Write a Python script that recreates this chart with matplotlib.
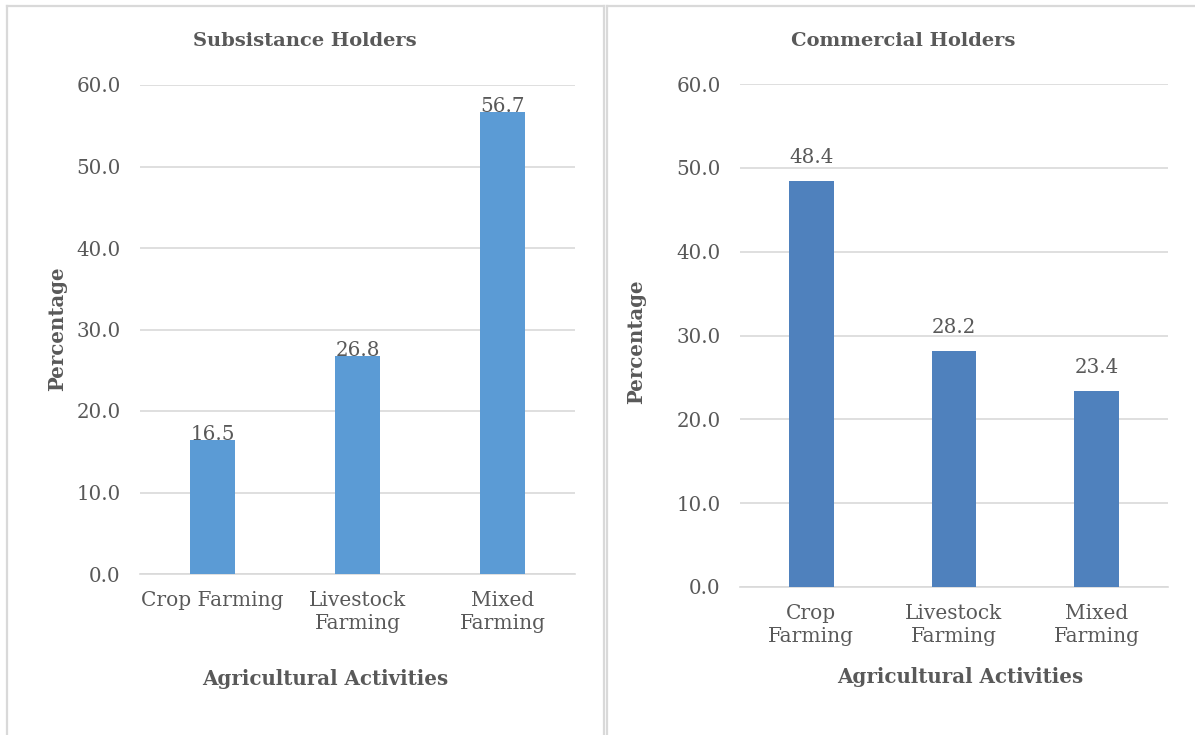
import matplotlib
matplotlib.use("Agg")
import matplotlib.pyplot as plt
from matplotlib.lines import Line2D

# Data
categories_sub = ["Crop Farming", "Livestock\nFarming", "Mixed\nFarming"]
values_sub = [16.5, 26.8, 56.7]
categories_com = ["Crop\nFarming", "Livestock\nFarming", "Mixed\nFarming"]
values_com = [48.4, 28.2, 23.4]
yticks = [0, 10, 20, 30, 40, 50, 60]

TEXT = "#595959"
GRID = "#D9D9D9"
FONT = "DejaVu Serif"

W, H = 1195, 735
fig = plt.figure(figsize=(W / 100, H / 100), dpi=100)
fig.patch.set_facecolor("white")


def fx(px):
    return px / W


def fy(py):
    return 1 - py / H


# Panel frames
frame_kw = dict(color=GRID, linewidth=1.6, transform=fig.transFigure)
fig.add_artist(Line2D([fx(7), fx(7)], [fy(6), 0], **frame_kw))
fig.add_artist(Line2D([fx(7), fx(604)], [fy(6), fy(6)], **frame_kw))
fig.add_artist(Line2D([fx(604), fx(604)], [fy(6), 0], **frame_kw))
fig.add_artist(Line2D([fx(607), fx(607)], [fy(6), 0], **frame_kw))
fig.add_artist(Line2D([fx(607), 1], [fy(6), fy(6)], **frame_kw))


def panel(rect, cats, vals, color, title, title_xy, xlabel_xy, ylabel_xy,
          label_offset, xpad):
    ax = fig.add_axes(rect)
    x = list(range(len(cats)))
    bars = ax.bar(x, vals, width=0.315, color=color, zorder=3)
    ax.set_xlim(-0.5, len(cats) - 0.5)
    ax.set_ylim(0, 60)
    ax.set_yticks(yticks)
    ax.set_yticklabels([f"{v:.1f}" for v in yticks], fontsize=14.3,
                       color=TEXT, family=FONT)
    ax.set_xticks(x)
    ax.set_xticklabels(cats, fontsize=14.5, color=TEXT, family=FONT,
                       linespacing=1.32)
    ax.tick_params(axis="both", length=0)
    ax.tick_params(axis="y", pad=14)
    ax.tick_params(axis="x", pad=xpad)
    ax.grid(axis="y", color=GRID, linewidth=1.2, zorder=0)
    for s in ["top", "right", "left"]:
        ax.spines[s].set_visible(False)
    ax.spines["bottom"].set_color(GRID)
    ax.spines["bottom"].set_linewidth(1.2)
    for b, v in zip(bars, vals):
        ax.annotate(f"{v:.1f}", (b.get_x() + b.get_width() / 2, v),
                    xytext=(0, label_offset), textcoords="offset points",
                    ha="center", va="bottom", fontsize=14.3, color=TEXT,
                    family=FONT)
    fig.text(fx(title_xy[0]), fy(title_xy[1]), title, ha="center",
             va="center", fontsize=14, fontweight="bold", color=TEXT,
             family=FONT)
    fig.text(fx(xlabel_xy[0]), fy(xlabel_xy[1]), "Agricultural Activities",
             ha="center", va="center", fontsize=14.3, fontweight="bold",
             color=TEXT, family=FONT)
    fig.text(fx(ylabel_xy[0]), fy(ylabel_xy[1]), "Percentage",
             ha="center", va="center", rotation=90, fontsize=14.2,
             fontweight="bold", color=TEXT, family=FONT)
    return ax


panel([fx(140), fy(574), (575 - 140) / W, (574 - 85) / H],
      categories_sub, values_sub, "#5B9BD5", "Subsistance Holders",
      (305, 41), (325, 679), (57, 329), -3, 12)
panel([fx(740), fy(587), (1168 - 740) / W, (587 - 84) / H],
      categories_com, values_com, "#4F81BD", "Commercial Holders",
      (903, 41), (960, 677), (636, 342), 10, 12)

fig.savefig("out.png", dpi=100, facecolor="white")
